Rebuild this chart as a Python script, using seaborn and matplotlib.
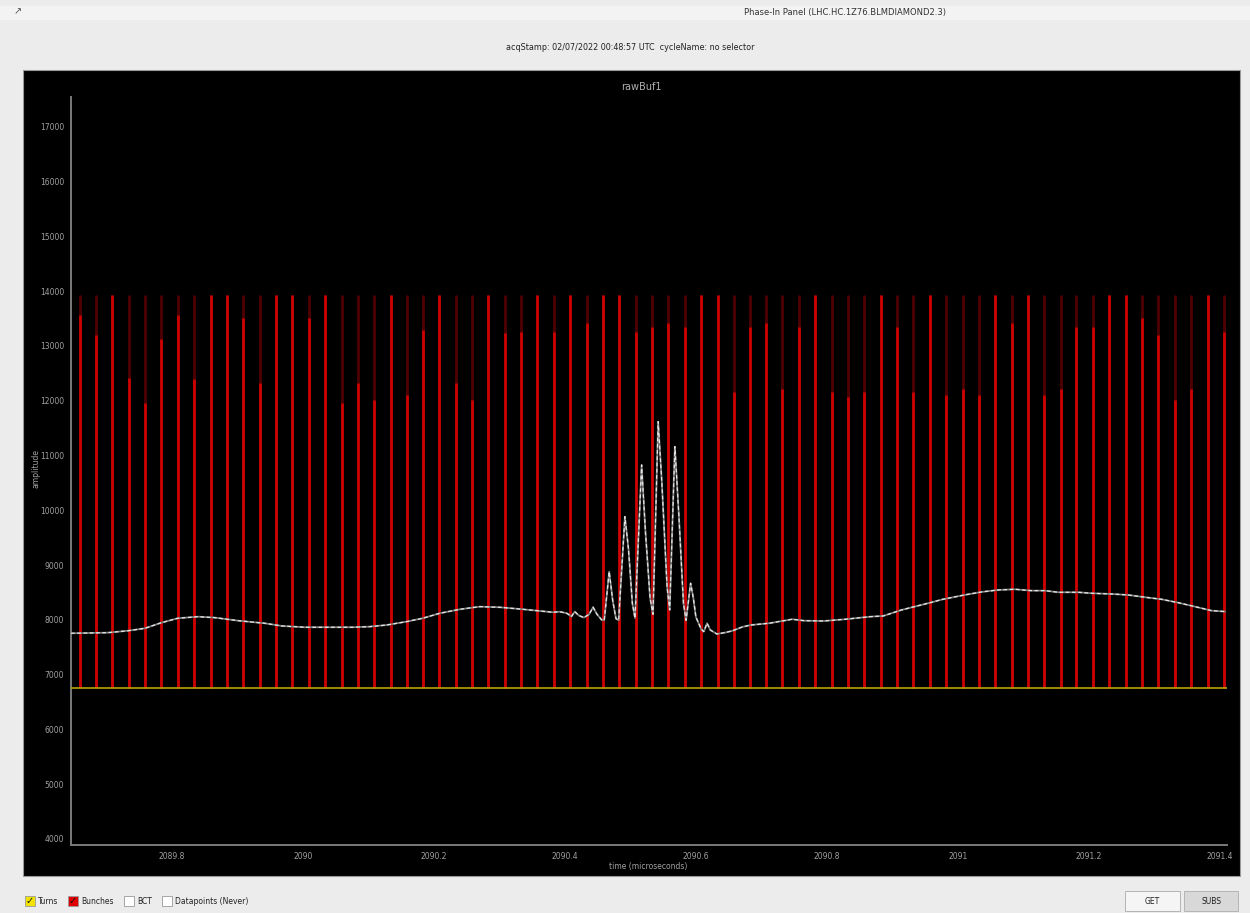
import matplotlib
matplotlib.use("Agg")
import matplotlib.pyplot as plt
import seaborn as sns
from matplotlib.patches import Rectangle

# ---------------- data ----------------
window_title = "Phase-In Panel (LHC.HC.1Z76.BLMDIAMOND2.3)"
acq_text = "acqStamp: 02/07/2022 00:48:57 UTC  cycleName: no selector"
plot_title = "rawBuf1"
x_label = "time (microseconds)"
y_label = "amplitude"

x_ticks = [2089.8, 2090.0, 2090.2, 2090.4, 2090.6, 2090.8, 2091.0, 2091.2, 2091.4]
x_tick_labels = ["2089.8", "2090", "2090.2", "2090.4", "2090.6", "2090.8", "2091", "2091.2", "2091.4"]
y_ticks = [4000, 5000, 6000, 7000, 8000, 9000, 10000, 11000, 12000, 13000, 14000, 15000, 16000, 17000]
y_tick_labels = [str(v) for v in y_ticks]

turn_level = 6750
bunch_max = 13930

bunch_t = [2089.660, 2089.684, 2089.709, 2089.734, 2089.759, 2089.784, 2089.809, 2089.834,
           2089.859, 2089.884, 2089.909, 2089.934, 2089.959, 2089.984, 2090.009, 2090.034,
           2090.059, 2090.084, 2090.109, 2090.134, 2090.159, 2090.183, 2090.208, 2090.233,
           2090.258, 2090.283, 2090.308, 2090.333, 2090.358, 2090.383, 2090.408, 2090.433,
           2090.458, 2090.483, 2090.508, 2090.533, 2090.558, 2090.583, 2090.608, 2090.633,
           2090.658, 2090.682, 2090.707, 2090.732, 2090.757, 2090.782, 2090.807, 2090.832,
           2090.857, 2090.882, 2090.907, 2090.932, 2090.957, 2090.982, 2091.007, 2091.032,
           2091.057, 2091.082, 2091.107, 2091.132, 2091.157, 2091.181, 2091.206, 2091.231,
           2091.256, 2091.281, 2091.306, 2091.331, 2091.356, 2091.381, 2091.406]

bunch_bright_top = [13560, 13200, 13930, 12410, 11950, 13130, 13560, 12390,
                    13930, 13930, 13510, 12320, 13930, 13930, 13510, 13930,
                    11950, 12320, 12010, 13930, 12100, 13290, 13930, 12320,
                    12010, 13930, 13230, 13260, 13930, 13260, 13930, 13410,
                    13930, 13930, 13260, 13350, 13410, 13350, 13930, 13930,
                    12160, 13350, 13410, 12220, 13350, 13930, 12160, 12070,
                    12160, 13930, 13350, 12160, 13930, 12100, 12220, 12100,
                    13930, 13410, 13930, 12100, 12220, 13350, 13350, 13930,
                    13930, 13500, 13200, 12010, 12220, 13930, 13260]

trace_t = [2089.646, 2089.702, 2089.733, 2089.759, 2089.784, 2089.809, 2089.840, 2089.866,
           2089.901, 2089.942, 2089.968, 2090.003, 2090.034, 2090.076, 2090.102, 2090.128,
           2090.158, 2090.183, 2090.209, 2090.240, 2090.270, 2090.301, 2090.331, 2090.357,
           2090.382, 2090.392, 2090.403, 2090.410, 2090.415, 2090.421, 2090.429, 2090.437,
           2090.443, 2090.449, 2090.456, 2090.460, 2090.4676, 2090.473, 2090.478, 2090.482,
           2090.4916, 2090.497, 2090.503, 2090.507, 2090.5171, 2090.523, 2090.530, 2090.5345,
           2090.5424, 2090.548, 2090.556, 2090.560, 2090.5679, 2090.574, 2090.581, 2090.585,
           2090.5919, 2090.596, 2090.600, 2090.604, 2090.608, 2090.612, 2090.617, 2090.622,
           2090.632, 2090.646, 2090.656, 2090.671, 2090.684, 2090.712, 2090.747, 2090.765,
           2090.795, 2090.828, 2090.866, 2090.886, 2090.914, 2090.954, 2090.977, 2090.985,
           2091.010, 2091.036, 2091.061, 2091.087, 2091.112, 2091.133, 2091.153, 2091.184,
           2091.204, 2091.235, 2091.260, 2091.286, 2091.311, 2091.336, 2091.362, 2091.387,
           2091.408]
trace_v = [7754, 7765, 7800, 7845, 7947, 8028, 8057, 8039,
           7984, 7936, 7887, 7864, 7864, 7864, 7875, 7905,
           7966, 8028, 8119, 8192, 8240, 8228, 8197, 8167,
           8137, 8148, 8119, 8060, 8150, 8080, 8040, 8100,
           8230, 8100, 8000, 7990, 8878, 8350, 8020, 7990,
           9882, 9300, 8300, 8030, 10826, 9600, 8400, 8100,
           11616, 10500, 8600, 8180, 11160, 9900, 8300, 7990,
           8667, 8400, 8050, 7940, 7830, 7784, 7937, 7814,
           7741, 7770, 7800, 7870, 7905, 7937, 8010, 7984,
           7978, 8010, 8057, 8070, 8180, 8301, 8374, 8393,
           8453, 8508, 8544, 8557, 8532, 8532, 8502, 8502,
           8484, 8471, 8453, 8411, 8374, 8313, 8240, 8167,
           8150]

legend_labels = ["Turns", "Bunches", "BCT", "Datapoints (Never)"]
legend_colors = ["#f2e400", "#e00000", "#ffffff", "#ffffff"]
legend_checked = [True, True, False, False]
button_labels = ["GET", "SUBS"]

# ---------------- figure ----------------
sns.set_style("dark")
plt.rcParams["font.family"] = ["DejaVu Sans"]

W, H = 1250, 913
fig = plt.figure(figsize=(W / 100, H / 100), dpi=100, facecolor="#ececec")


def fx(px):
    return px / W


def fy(py):
    return 1 - py / H


# window top strip
fig.patches.append(Rectangle((0, fy(20)), 1, fy(6) - fy(20), transform=fig.transFigure,
                             facecolor="#f3f3f3", edgecolor="none", zorder=-2))
fig.text(fx(845), fy(12), window_title, fontsize=6, color="#333333", ha="center", va="center")
fig.text(fx(18), fy(11), "\u2197", fontsize=7, color="#555555", ha="center", va="center")
fig.text(fx(630), fy(47), acq_text, fontsize=5.8, color="#222222", ha="center", va="center")

# black panel
fig.patches.append(Rectangle((fx(23), fy(876)), fx(1240) - fx(23), fy(70) - fy(876),
                             transform=fig.transFigure, facecolor="#000000",
                             edgecolor="#9a9a9a", linewidth=0.8, zorder=-2))

ax = fig.add_axes([fx(71), fy(845), fx(1226.5) - fx(71), fy(97) - fy(845)])
ax.set_zorder(3)
ax.set_facecolor("#000000")

# bunches
ax.vlines(bunch_t, turn_level, bunch_max, colors="#500000", linewidth=2.0, zorder=2)
ax.vlines(bunch_t, turn_level, bunch_bright_top, colors="#cc0000", linewidth=2.0, zorder=3)

# turns
ax.axhline(turn_level, color="#b8a400", linewidth=1.2, zorder=4)

# raw buffer trace
sns.lineplot(x=trace_t, y=trace_v, ax=ax, color="#7c7c7c", linewidth=1.3,
             sort=False, estimator=None, zorder=5)
sns.lineplot(x=trace_t, y=trace_v, ax=ax, color="#e6e6e6", linewidth=0.9,
             sort=False, estimator=None, zorder=6, linestyle=(0, (3, 2)))

ax.set_xlim(2089.646, 2091.41)
ax.set_ylim(3890, 17541)
ax.set_xticks(x_ticks)
ax.set_xticklabels(x_tick_labels)
ax.set_yticks(y_ticks)
ax.set_yticklabels(y_tick_labels)
ax.grid(False)
ax.tick_params(axis="both", colors="#8a8a8a", labelcolor="#a0a0a0", labelsize=5.5,
               length=3, width=0.8, direction="out", pad=2)
for s in ["top", "right"]:
    ax.spines[s].set_visible(False)
for s in ["left", "bottom"]:
    ax.spines[s].set_visible(True)
    ax.spines[s].set_color("#7a7a7a")
    ax.spines[s].set_linewidth(1.4)

fig.text(fx(641), fy(87), plot_title, fontsize=7, color="#b0b0b0", ha="center", va="center",
         zorder=5)
fig.text(fx(648), fy(866), x_label, fontsize=5.5, color="#a0a0a0", ha="center", va="center",
         zorder=5)
fig.text(fx(36), fy(468), y_label, fontsize=5.5, color="#a0a0a0", ha="center", va="center",
         rotation=90, zorder=5)

# bottom legend checkboxes
box_x = [25, 68, 124, 162]
for bx, lab, col, chk in zip(box_x, legend_labels, legend_colors, legend_checked):
    fig.patches.append(Rectangle((fx(bx), fy(906)), fx(10), fy(896) - fy(906),
                                 transform=fig.transFigure, facecolor=col,
                                 edgecolor="#9a9a9a", linewidth=0.6, zorder=1))
    if chk:
        fig.text(fx(bx + 5), fy(901), "\u2713", fontsize=7, color="#111111",
                 ha="center", va="center", zorder=5)
    fig.text(fx(bx + 13), fy(901), lab, fontsize=5.5, color="#222222", ha="left", va="center",
             zorder=5)

# buttons
btn_x = [(1125, 1180, "#f5f5f5"), (1184, 1238, "#d8d8d8")]
for (x0, x1, fc), lab in zip(btn_x, button_labels):
    fig.patches.append(Rectangle((fx(x0), fy(911)), fx(x1) - fx(x0), fy(891) - fy(911),
                                 transform=fig.transFigure, facecolor=fc,
                                 edgecolor="#b4b4b4", linewidth=0.7, zorder=1))
    fig.text(fx((x0 + x1) / 2), fy(901), lab, fontsize=5.5, color="#222222",
             ha="center", va="center", zorder=5)

fig.savefig("out.png", dpi=100, facecolor=fig.get_facecolor())
